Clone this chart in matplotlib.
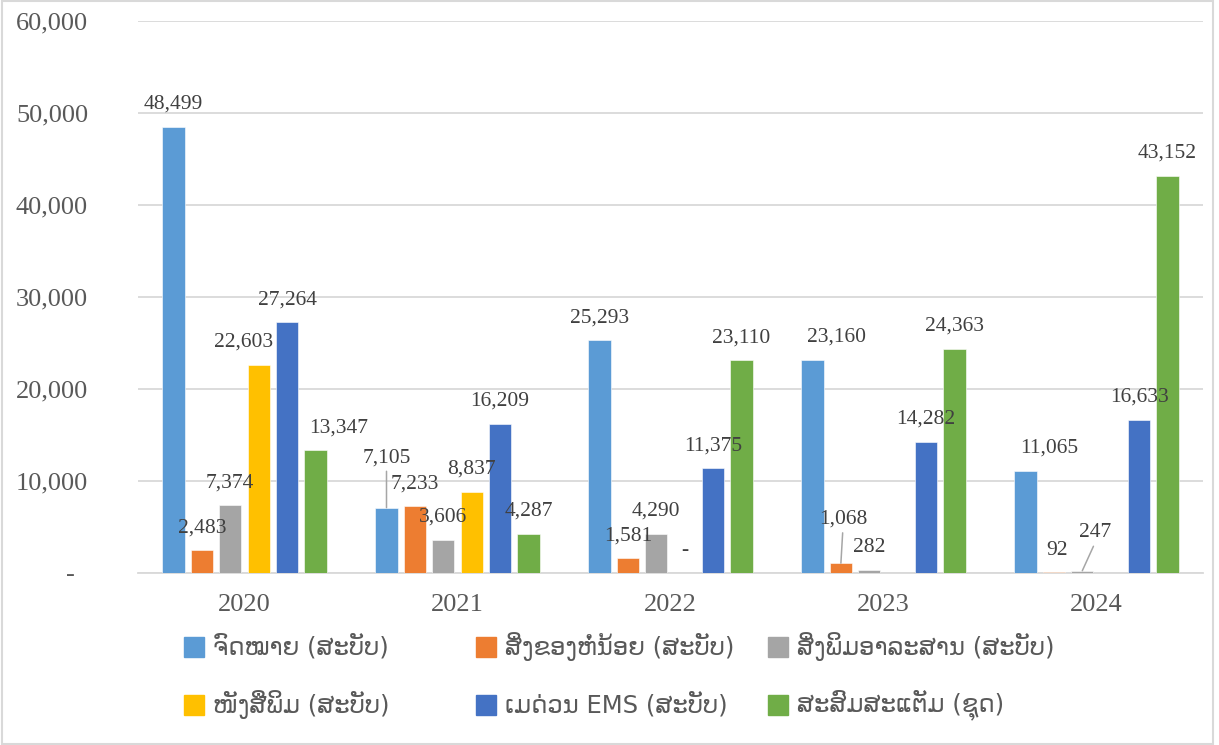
import numpy as np
import matplotlib
matplotlib.use("Agg")
import matplotlib.pyplot as plt
from matplotlib.patches import Rectangle
from matplotlib.transforms import ScaledTranslation

years = ["2020", "2021", "2022", "2023", "2024"]
series_names = [
    "ຈົດໝາຍ (ສະບັບ)",
    "ສິ່ງຂອງຫໍ່ນ້ອຍ (ສະບັບ)",
    "ສິ່ງພິມອາລະສານ (ສະບັບ)",
    "ໜັງສືພິມ (ສະບັບ)",
    "ເມດ່ວນ EMS (ສະບັບ)",
    "ສະສົມສະແຕັມ (ຊຸດ)",
]
letters = [48499, 7105, 25293, 23160, 11065]
small_parcels = [2483, 7233, 1581, 1068, 92]
printed_matter = [7374, 3606, 4290, 282, 247]
newspapers = [22603, 8837, 0, np.nan, np.nan]
ems = [27264, 16209, 11375, 14282, 16633]
stamps = [13347, 4287, 23110, 24363, 43152]
series_values = [letters, small_parcels, printed_matter, newspapers, ems, stamps]
colors = ["#5B9BD5", "#ED7D31", "#A5A5A5", "#FFC000", "#4472C4", "#70AD47"]

# label nudges in pixels (dx, dy above bar top), Excel moved a few of them
default_off = (0, 22.5)
label_off = {
    (0, 3): (-15, 23),
    (0, 5): (23, 22),
    (1, 0): (0, 50),
    (3, 0): (24, 23),
    (3, 1): (2, 44),
    (4, 0): (24, 23),
    (4, 1): (3, 22),
    (4, 2): (13, 38),
}
leaders = {(1, 0), (3, 1), (4, 2)}

W, H = 1219, 745
fig = plt.figure(figsize=(W / 100, H / 100), dpi=100)
ax = fig.add_axes([138 / W, 1 - 573 / H, (1203 - 138) / W, (573 - 21) / H])

serif = "Liberation Serif"
txt_col = "#595959"
lbl_col = "#404040"
px = 0.72  # pixels -> points

x = np.arange(len(years))
slot = 0.8 / 6
bw = 0.104
for j, (vals, c) in enumerate(zip(series_values, colors)):
    vals = np.array(vals, dtype=float)
    xs = x + (j - 2.5) * slot
    ok = ~np.isnan(vals)
    ax.bar(xs[ok], vals[ok], width=bw, color=c, edgecolor="white", linewidth=0.4, zorder=3)
    for i in np.where(ok)[0]:
        v = vals[i]
        dx, dy = label_off.get((i, j), default_off)
        s = "-" if v == 0 else f"{v:,.0f}"
        kw = {}
        if (i, j) in leaders:
            kw["arrowprops"] = dict(arrowstyle="-", color="#A6A6A6", lw=1.1,
                                    shrinkA=1, shrinkB=0, relpos=(0.5, 0))
        ax.annotate(s, xy=(xs[i], v), xytext=(dx * px, dy * px),
                    textcoords="offset points", ha="center", va="center",
                    fontsize=15.5, family=serif, color=lbl_col, zorder=5, **kw)

ax.set_xlim(-0.5, len(years) - 0.5)
ax.set_ylim(0, 60000)
ax.set_yticks(np.arange(0, 60001, 10000))
ax.set_yticklabels(["-" if t == 0 else f"{t:,}" for t in range(0, 60001, 10000)])
ax.set_xticks(x)
ax.set_xticklabels(years)
ax.grid(axis="y", color="#D9D9D9", linewidth=1.3, zorder=0)
ax.set_axisbelow(True)
for sp in ["top", "right", "left"]:
    ax.spines[sp].set_visible(False)
ax.spines["bottom"].set_color("#D9D9D9")
ax.spines["bottom"].set_linewidth(1.3)
ax.tick_params(axis="both", length=0, labelsize=19, labelcolor=txt_col)
ax.tick_params(axis="y", pad=36)
ax.tick_params(axis="x", pad=15)
for lab in ax.get_yticklabels() + ax.get_xticklabels():
    lab.set_family(serif)
zero_lab = ax.get_yticklabels()[0]
zero_lab.set_transform(zero_lab.get_transform() + ScaledTranslation(-0.13, 0, fig.dpi_scale_trans))

# legend laid out like Excel: 3 fixed columns, 2 rows
col_x = [184, 476, 768]
row_y = [646.5, 705]
sq = 20
for k, (name, c) in enumerate(zip(series_names, colors)):
    cx = col_x[k % 3]
    cy = row_y[k // 3]
    fig.patches.append(Rectangle((cx / W, 1 - (cy + sq / 2) / H), sq / W, sq / H,
                                 transform=fig.transFigure, color=c))
    fig.text((cx + sq + 9) / W, 1 - cy / H, name, ha="left", va="center",
             fontsize=17.5, family=["DejaVu Sans"], color=txt_col)

# thin chart border
fig.patches.append(Rectangle((2 / W, 1 / H), (W - 8) / W, (H - 2) / H,
                             transform=fig.transFigure, fill=False,
                             edgecolor="#D9D9D9", linewidth=1.5))

fig.savefig("out.png", dpi=100)
